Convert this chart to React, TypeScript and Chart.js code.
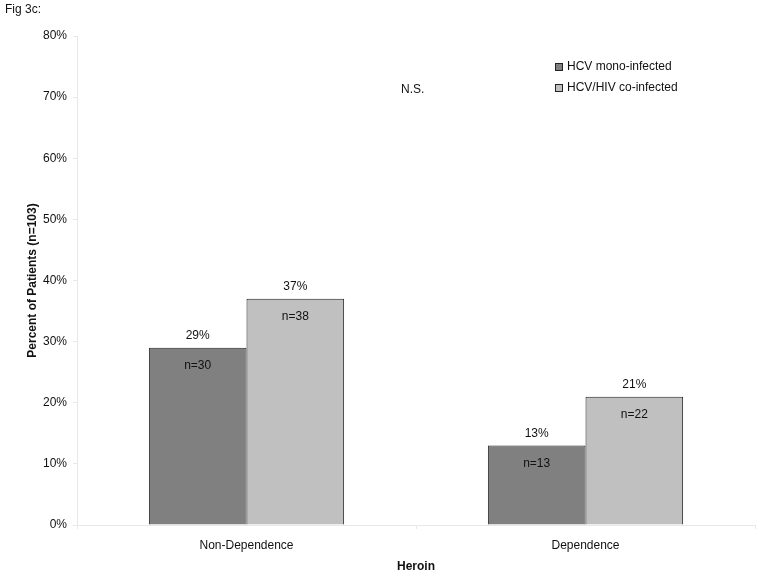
import React, { useEffect, useRef } from "react";
import { Chart, registerables } from "chart.js";

Chart.register(...registerables);

const categories = ["Non-Dependence", "Dependence"];
const seriesNames = ["HCV mono-infected", "HCV/HIV co-infected"];
const monoValues = [29, 13];
const coValues = [37, 21];
const monoCounts = ["n=30", "n=13"];
const coCounts = ["n=38", "n=22"];
const yTicks = [0, 10, 20, 30, 40, 50, 60, 70, 80];
const figLabel = "Fig 3c:";
const noteText = "N.S.";

const FONT = "'Liberation Sans', Arial, sans-serif";
const colors = ["#808080", "#c0c0c0"];
const counts = [monoCounts, coCounts];

const annotPlugin = {
  id: "annot",
  afterDatasetsDraw(chart: any) {
    const ctx = chart.ctx;
    ctx.save();
    ctx.font = `12px ${FONT}`;
    ctx.fillStyle = "#111";
    ctx.textAlign = "center";
    ctx.textBaseline = "middle";
    chart.data.datasets.forEach((ds: any, di: number) => {
      const meta = chart.getDatasetMeta(di);
      meta.data.forEach((bar: any, i: number) => {
        ctx.fillText(`${ds.data[i]}%`, bar.x, bar.y - 12);
        ctx.fillText(counts[di][i], bar.x, bar.y + 18);
      });
    });
    ctx.textAlign = "left";
    ctx.fillText(figLabel, 5, 10);
    ctx.fillText(noteText, 401, 90);
    seriesNames.forEach((name, i) => {
      const y = 67 + i * 21;
      ctx.fillStyle = colors[i];
      ctx.fillRect(555, y - 4, 8, 8);
      ctx.strokeStyle = "#222";
      ctx.lineWidth = 1;
      ctx.strokeRect(555.5, y - 3.5, 7, 7);
      ctx.fillStyle = "#111";
      ctx.fillText(name, 567, y);
    });
    ctx.restore();
  },
};

export default function App() {
  const ref = useRef<HTMLCanvasElement>(null);
  useEffect(() => {
    document.body.style.margin = "0";
    const chart = new Chart(ref.current!, {
      type: "bar",
      data: {
        labels: categories,
        datasets: [
          {
            label: seriesNames[0],
            data: monoValues,
            backgroundColor: colors[0],
            borderColor: "#222",
            borderWidth: 1,
            categoryPercentage: 0.576,
            barPercentage: 1.0,
          },
          {
            label: seriesNames[1],
            data: coValues,
            backgroundColor: colors[1],
            borderColor: "#222",
            borderWidth: 1,
            categoryPercentage: 0.576,
            barPercentage: 1.0,
          },
        ],
      },
      options: {
        animation: false,
        responsive: false,
        layout: { padding: { top: 36, right: 6, left: 0, bottom: 0 } },
        plugins: {
          legend: { display: false },
          tooltip: { enabled: false },
        },
        scales: {
          x: {
            grid: {
              display: true,
              offset: true,
              drawOnChartArea: false,
              drawTicks: true,
              tickLength: 4,
              color: "#e8e8e8",
            },
            border: { color: "#e8e8e8", width: 1 },
            ticks: {
              color: "#111",
              font: { family: FONT, size: 12 },
              padding: 9,
            },
            title: {
              display: true,
              text: "Heroin",
              color: "#111",
              font: { family: FONT, size: 12, weight: "bold" },
              padding: { top: 7, bottom: 0 },
            },
            afterFit(scale: any) {
              scale.height = 49;
            },
          },
          y: {
            min: 0,
            max: 80,
            afterBuildTicks(scale: any) {
              scale.ticks = yTicks.map((v) => ({ value: v }));
            },
            grid: {
              display: true,
              drawOnChartArea: false,
              drawTicks: true,
              tickLength: 4,
              color: "#e8e8e8",
            },
            border: { color: "#e8e8e8", width: 1 },
            ticks: {
              color: "#111",
              font: { family: FONT, size: 12 },
              padding: 6,
              callback: (v: any) => `${v}%`,
            },
            title: {
              display: true,
              text: "Percent of Patients (n=103)",
              color: "#111",
              font: { family: FONT, size: 12, weight: "bold" },
              padding: { top: 25, bottom: 0 },
            },
            afterFit(scale: any) {
              scale.width = 77;
            },
          },
        },
      },
      plugins: [annotPlugin],
    });
    return () => chart.destroy();
  }, []);
  return <canvas ref={ref} width={761} height={574} style={{ display: "block" }} />;
}
